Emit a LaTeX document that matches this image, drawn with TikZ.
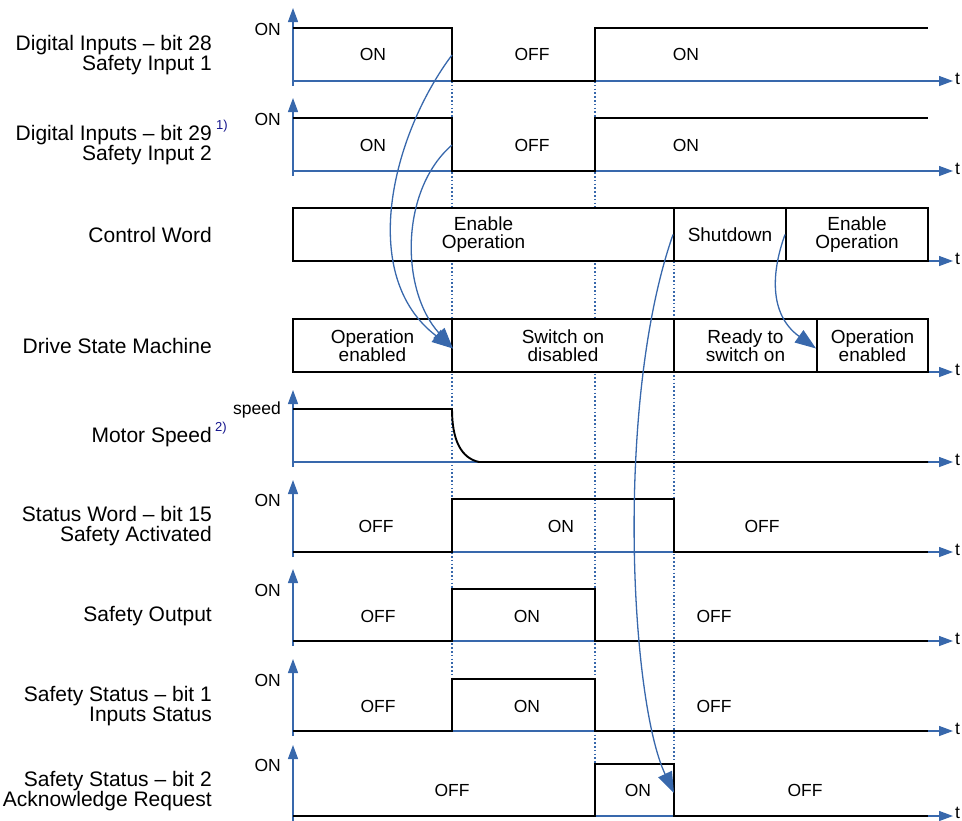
\documentclass[tikz,border=0pt]{standalone}
\usepackage{fontspec}
\setmainfont{Liberation Sans}
\usetikzlibrary{arrows.meta}
\definecolor{axblue}{RGB}{56,104,172}
\definecolor{notenavy}{RGB}{20,20,140}
\newcommand{\namefont}{\fontsize{21}{20}\selectfont}
\newcommand{\plotfont}{\fontsize{17.5}{18}\selectfont}
\newcommand{\boxfont}{\fontsize{19}{18}\selectfont}
\newcommand{\notefont}{\fontsize{13}{13}\selectfont}
\tikzset{
  taxis/.style={axblue, line width=1.3pt, -{Triangle[length=14pt,width=10pt]}},
  vaxis/.style={axblue, line width=1.3pt, -{Triangle[length=14pt,width=10pt]}},
  sig/.style={line width=1.9pt, line join=miter},
  guide/.style={axblue, line width=1.2pt, dash pattern=on 1.6pt off 2.2pt},
  flow/.style={axblue, line width=1.3pt, -{Triangle[length=21pt,width=15pt]}},
  seg/.style={draw, line width=1.9pt, minimum height=53pt, inner sep=0pt, align=center, font=\boxfont},
  lbl/.style={font=\plotfont, inner sep=0pt},
  rowname/.style={anchor=east, align=right, font=\namefont, inner sep=0pt},
  note/.style={font=\notefont, text=notenavy, inner sep=0pt},
}
\begin{document}
\begin{tikzpicture}[x=1pt, y=-1pt]
    \useasboundingbox (0,0) rectangle (962,820);
    % Coordinates
    \coordinate (in1fall) at (452,55);
    \coordinate (in2fall) at (452,145);
    \coordinate (ackfall) at (674,793);

    % Row names
    \node[rowname] (n1) at (212,55) {Digital Inputs -- bit 28\\Safety Input 1};
    \node[rowname] (n2) at (212,145) {Digital Inputs -- bit 29\\Safety Input 2};
    \node[note] (f1) at (222,126) {1)};
    \node[rowname] (n3) at (212,235) {Control Word};
    \node[rowname] (n4) at (212,346) {Drive State Machine};
    \node[rowname] (n5) at (212,437) {Motor Speed};
    \node[note] (f2) at (221,428) {2)};
    \node[rowname] (n6) at (212,526) {Status Word -- bit 15\\Safety Activated};
    \node[rowname] (n7) at (212,616) {Safety Output};
    \node[rowname] (n8) at (212,706) {Safety Status -- bit 1\\Inputs Status};
    \node[rowname] (n9) at (212,791) {Safety Status -- bit 2\\Acknowledge Request};

    % Time axes
    \draw[taxis] (293,81) -- (953,81);
    \draw[taxis] (293,171) -- (953,171);
    \draw[taxis] (293,261) -- (953,261);
    \draw[taxis] (293,372) -- (953,372);
    \draw[taxis] (293,462) -- (953,462);
    \draw[taxis] (293,552) -- (953,552);
    \draw[taxis] (293,641) -- (953,641);
    \draw[taxis] (293,731) -- (953,731);
    \draw[taxis] (293,816) -- (953,816);
    \node[lbl, anchor=west] (t1) at (955,79) {t};
    \node[lbl, anchor=west] (t2) at (955,169) {t};
    \node[lbl, anchor=west] (t3) at (955,259) {t};
    \node[lbl, anchor=west] (t4) at (955,370) {t};
    \node[lbl, anchor=west] (t5) at (955,460) {t};
    \node[lbl, anchor=west] (t6) at (955,550) {t};
    \node[lbl, anchor=west] (t7) at (955,639) {t};
    \node[lbl, anchor=west] (t8) at (955,729) {t};
    \node[lbl, anchor=west] (t9) at (955,813) {t};

    % Level axes
    \draw[vaxis] (293,86) -- (293,8);
    \draw[vaxis] (293,176) -- (293,98);
    \draw[vaxis] (293,467) -- (293,390);
    \draw[vaxis] (293,557) -- (293,480);
    \draw[vaxis] (293,646) -- (293,569);
    \draw[vaxis] (293,736) -- (293,659);
    \draw[vaxis] (293,822) -- (293,745);
    \node[lbl, anchor=east] (on1) at (281,29) {ON};
    \node[lbl, anchor=east] (on2) at (281,119) {ON};
    \node[lbl, anchor=east] (sp5) at (281,410) {speed};
    \node[lbl, anchor=east] (on6) at (281,500) {ON};
    \node[lbl, anchor=east] (on7) at (281,590) {ON};
    \node[lbl, anchor=east] (on8) at (281,680) {ON};
    \node[lbl, anchor=east] (on9) at (281,765) {ON};

    % Guides
    \draw[guide] (452,81) -- (452,679);
    \draw[guide] (595,81) -- (595,764);
    \draw[guide] (674,261) -- (674,764);

    % Signals
    \draw[sig] (293,28) -- (452,28) -- (452,81) -- (595,81) -- (595,28) -- (928,28);
    \draw[sig] (293,118) -- (452,118) -- (452,171) -- (595,171) -- (595,118) -- (928,118);
    \draw[sig] (293,409) -- (452,409) .. controls (452,440) and (461,458) .. (479,462) -- (928,462);
    \draw[sig] (293,552) -- (452,552) -- (452,499) -- (674,499) -- (674,552) -- (928,552);
    \draw[sig] (293,641) -- (452,641) -- (452,589) -- (595,589) -- (595,641) -- (928,641);
    \draw[sig] (293,731) -- (452,731) -- (452,679) -- (595,679) -- (595,731) -- (928,731);
    \draw[sig] (293,816) -- (595,816) -- (595,764) -- (674,764) -- (674,816) -- (928,816);

    % Signal texts
    \node[lbl] (s1a) at (373,54) {ON};
    \node[lbl] (s1b) at (532,54) {OFF};
    \node[lbl] (s1c) at (686,54) {ON};
    \node[lbl] (s2a) at (373,145) {ON};
    \node[lbl] (s2b) at (532,145) {OFF};
    \node[lbl] (s2c) at (686,145) {ON};
    \node[lbl] (s6a) at (376,526) {OFF};
    \node[lbl] (s6b) at (561,526) {ON};
    \node[lbl] (s6c) at (762,526) {OFF};
    \node[lbl] (s7a) at (378,616) {OFF};
    \node[lbl] (s7b) at (527,616) {ON};
    \node[lbl] (s7c) at (714,616) {OFF};
    \node[lbl] (s8a) at (378,706) {OFF};
    \node[lbl] (s8b) at (527,706) {ON};
    \node[lbl] (s8c) at (714,706) {OFF};
    \node[lbl] (s9a) at (452,790) {OFF};
    \node[lbl] (s9b) at (638,790) {ON};
    \node[lbl] (s9c) at (805,790) {OFF};

    % Control word and state boxes
    \node[seg, minimum width=381pt, fill=white] (cwA) at (483.5,234.5) {Enable\\Operation};
    \node[seg, minimum width=112pt, fill=white] (cwB) at (730,234.5) {Shutdown};
    \node[seg, minimum width=142pt, fill=white] (cwC) at (857,234.5) {Enable\\Operation};
    \node[seg, minimum width=159pt, fill=white] (dsmA) at (372.5,345.5) {Operation\\enabled};
    \node[seg, minimum width=222pt, fill=white] (dsmB) at (563,345.5) {Switch on\\disabled};
    \node[seg, minimum width=143pt, fill=white] (dsmC) at (745.5,345.5) {Ready to\\switch on};
    \node[seg, minimum width=111pt, fill=white] (dsmD) at (872.5,345.5) {Operation\\enabled};

    % Cause arrows
    \draw[flow] (in1fall) .. controls (392,135) and (357,276) .. ([yshift=-3pt]dsmA.east);
    \draw[flow] (in2fall) .. controls (400,190) and (400,290) .. ([yshift=-3pt]dsmA.east);
    \draw[flow] (cwB.west) .. controls (615,400) and (630,700) .. (ackfall);
    \draw[flow] (cwC.west) .. controls (772,270) and (768,314) .. ([yshift=-3pt]dsmD.west);
  \end{tikzpicture}
\end{document}
